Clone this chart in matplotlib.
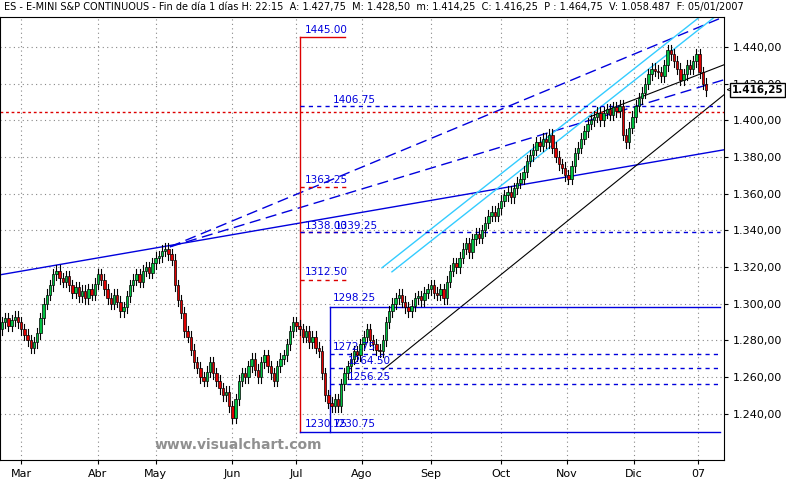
import matplotlib
matplotlib.use("Agg")
import matplotlib.pyplot as plt
from matplotlib.ticker import FuncFormatter

closes = [1290,1292,1288,1291,1293,1290,1286,1283,1280,1276,1279,
1284,1292,1300,1305,1310,1316,1318,1314,1312,1315,1310,1306,1309,1304,1307,
1303,1308,1305,1311,1316,1313,1308,1303,1300,1305,1301,1296,1298,1304,1310,
1313,1316,1312,1318,1320,1317,1322,1325,1326,1329,1330,1327,1324,
1310,1302,1295,1285,1282,1275,1268,1265,1260,1258,1263,1268,1262,1258,1254,
1250,1252,1244,1238,1248,1258,1262,1260,1266,1270,1264,1260,1268,1272,1266,
1262,1258,1266,1270,1272,1278,1285,1290,1288,1286,1282,1285,1279,1282,1276,
1274,1262,1250,1246,1244,1248,1244,1256,1262,1266,1270,1274,1272,1278,1282,
1286,1280,1278,1275,1274,1280,1290,1296,1300,1303,1305,1301,1298,1296,1299,
1303,1304,1302,1306,1308,1310,1306,1305,1308,1303,1312,1318,1322,1320,1325,
1330,1333,1328,1335,1338,1336,1340,1344,1348,1350,1348,1352,1356,1359,1361,
1358,1363,1366,1368,1372,1378,1381,1384,1388,1386,1390,1388,1392,1385,1380,
1376,1374,1370,1368,1375,1382,1385,1390,1394,1398,1400,1402,1404,1400,1404,
1406,1403,1407,1405,1408,1392,1388,1396,1402,1408,1412,1415,1420,1425,1428,
1427,1426,1424,1430,1438,1436,1432,1428,1422,1425,1430,1428,1432,1436,1426,
1420,1416.25]
first_open = 1286
month_labels = ["Mar","Abr","May","Jun","Jul","Ago","Sep","Oct","Nov","Dic","07"]
month_pos = [6,30,48,72,92,112.5,134,156,176.5,197.5,217.5]
yticks = [1240,1260,1280,1300,1320,1340,1360,1380,1400,1420,1440]

fig = plt.figure(figsize=(7.86,4.8), dpi=100)
ax = fig.add_axes([0,0.042,0.921,0.923])
def X(px): return (px-2)/3.2
def P(py): return 1440-(py-47)/1.835
ax.set_xlim(X(0),X(724)); ax.set_ylim(P(460),P(17))

opens = [first_open]+closes[:-1]
for i,(o,c) in enumerate(zip(opens,closes)):
    hi = max(o,c)+3; lo = min(o,c)-3
    ax.plot([i,i],[lo,hi],color="black",lw=0.8,zorder=3)
    col = "#00c040" if c>=o else "#e00000"
    ax.bar(i, max(abs(c-o),0.6), bottom=min(o,c), width=0.75, color=col, edgecolor="black", lw=0.5, zorder=4)

def L(p1,p2,**kw):
    ax.plot([X(p1[0]),X(p2[0])],[P(p1[1]),P(p2[1])],**kw)
L((0,275),(724,150),color="#0000dd",lw=1)
L((170,247),(724,17),color="#0000dd",lw=1,dashes=(8,4))
L((170,247),(724,80),color="#0000dd",lw=1,dashes=(8,4))
L((382,268),(700,17),color="#33ccff",lw=1)
L((392,272),(715,17),color="#33ccff",lw=1)
L((383,370),(724,95),color="black",lw=0.8)
L((590,117),(724,65),color="black",lw=0.8)
L((300,37),(300,432),color="#dd0000",lw=1)
L((300,37),(345,37),color="#dd0000",lw=1)
L((0,112),(724,112),color="#dd0000",lw=1,ls=(0,(2,2)))
for py in [187,232,280]:
    L((300,py),(350,py),color="#dd0000",lw=1,ls=(0,(3,3)))
for py,x0 in [(106,300),(232,300),(354,330),(368,330),(384,330)]:
    L((x0,py),(720,py),color="#0000dd",lw=1,ls=(0,(3,3)))
L((330,307),(720,307),color="#0000dd",lw=1)
L((330,307),(330,432),color="#0000dd",lw=1)
L((300,432),(720,432),color="#0000dd",lw=1)
labels = [("1445.00",305,30),("1406.75",333,100),("1363.25",305,180),("1338.00",305,226),
          ("1339.25",335,226),("1312.50",305,272),("1298.25",333,298),("1272.75",333,347),
          ("1264.50",348,361),("1256.25",348,377),("1230.75",305,424),("1230.75",333,424)]
for t,px,py in labels:
    ax.text(X(px),P(py),t,color="#0000dd",fontsize=7.5,va="center",zorder=6)

ax.yaxis.tick_right()
ax.set_yticks(yticks)
ax.yaxis.set_major_formatter(FuncFormatter(lambda v,p: f"{int(v//1000)}.{int(v%1000):03d},00"))
ax.set_xticks(month_pos); ax.set_xticklabels(month_labels)
ax.tick_params(labelsize=8, length=3)
ax.grid(True,color="#888888",ls=(0,(1,3)),lw=0.8)
ax.text(X(155),P(445),"www.visualchart.com",color="#909090",fontsize=10,fontweight="bold",va="center")
fig.text(726/786,1-90/480,"<",fontsize=7,va="center",ha="left")
fig.text(732/786,1-90/480,"1.416,25",fontsize=7.5,fontweight="bold",va="center",ha="left",
         bbox=dict(facecolor="white",edgecolor="black",pad=1.2))
fig.text(0.005,0.985,"ES - E-MINI S&P CONTINUOUS - Fin de día 1 días H: 22:15  A: 1.427,75  M: 1.428,50  m: 1.414,25  C: 1.416,25  P : 1.464,75  V: 1.058.487  F: 05/01/2007",
         fontsize=7,va="center")
fig.savefig("out.png",dpi=100)
